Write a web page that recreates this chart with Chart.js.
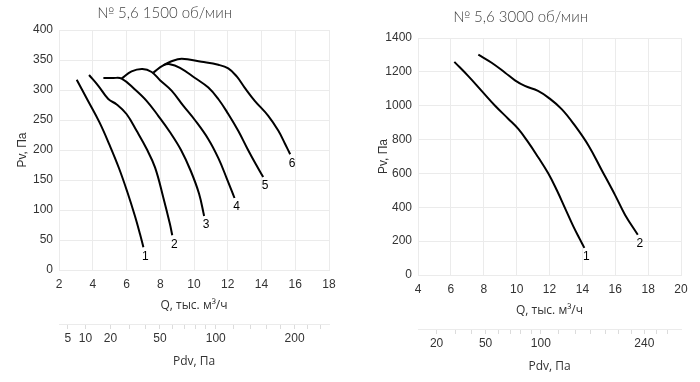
<!DOCTYPE html>
<html>
<head>
<meta charset="utf-8">
<script src="https://cdn.jsdelivr.net/npm/chart.js@4.4.1/dist/chart.umd.min.js"></script>
<style>
  html, body { margin: 0; padding: 0; background: #fff; overflow: hidden; }
  #wrap { position: relative; width: 700px; height: 382px; overflow: hidden; }
  #left { position: absolute; left: 0; top: 0; }
  #right { position: absolute; left: 360px; top: 5px; }
</style>
</head>
<body>
<div id="wrap">
  <canvas id="left" width="412" height="382"></canvas>
  <canvas id="right" width="396" height="382"></canvas>
</div>
<script>
// 1500 rpm: Q (thousand m3/h) and Pv (Pa) per curve
const leftQ1 = [3.05, 3.7, 4.4, 5.0, 5.55, 6.05, 6.5, 6.8, 7.0];
const leftPv1 = [317, 283, 246, 208, 170, 130, 90, 60, 38];
const leftQ2 = [3.78, 4.33, 4.92, 5.42, 6.0, 6.6, 7.19, 7.69, 8.18, 8.57, 8.71];
const leftPv2 = [325, 307, 285, 276, 260, 232, 202, 171, 121, 77, 58];
const leftQ3 = [4.63, 5.2, 5.71, 6.5, 7.19, 7.88, 8.57, 9.23, 9.81, 10.3, 10.6];
const leftPv3 = [320, 320, 319, 301, 282, 257, 230, 200, 165, 127, 90];
const leftQ4 = [5.71, 6.3, 6.94, 7.49, 8.0, 8.67, 9.36, 10.05, 10.85, 11.45, 11.95, 12.4];
const leftPv4 = [319, 331, 335, 330, 316, 299, 274, 250, 218, 186, 152, 120];
const leftQ5 = [7.59, 8.18, 8.57, 9.17, 10.06, 10.85, 11.44, 12.03, 12.62, 13.15, 13.65, 14.1];
const leftPv5 = [329, 341, 343, 337, 320, 304, 285, 260, 232, 203, 177, 155];
const leftQ6 = [8.18, 8.6, 9.27, 10.45, 11.44, 12.03, 12.52, 13.0, 13.6, 14.4, 15.0, 15.4, 15.7];
const leftPv6 = [341, 347, 352, 347, 342, 336, 323, 304, 282, 257, 232, 210, 193];

// 3000 rpm
const rightQ1 = [6.21, 7.06, 7.87, 8.69, 9.5, 10.1, 10.7, 11.3, 11.93, 12.44, 12.95, 13.45, 13.86, 14.12];
const rightPv1 = [1259, 1175, 1088, 1000, 922, 863, 785, 697, 599, 502, 394, 287, 209, 160];
const rightQ2 = [7.67, 8.48, 9.3, 9.9, 10.5, 11.3, 11.93, 12.74, 13.55, 14.37, 15.18, 15.99, 16.6, 17.37];
const rightPv2 = [1302, 1254, 1195, 1150, 1117, 1088, 1048, 980, 882, 765, 619, 472, 355, 238];

// dynamic pressure scale, Pdv = k * Q^2
const leftK = 0.785;
const leftPdvTicks = [5, 10, 20, 30, 40, 50, 60, 70, 80, 90, 100, 120, 140, 160, 180, 200, 220, 240];
const leftPdvLabels = [5, 10, 20, 50, 100, 200];
const rightK = 0.76;
const rightPdvTicks = [20, 30, 40, 50, 60, 70, 80, 90, 100, 120, 140, 160, 180, 200, 220, 240, 260, 280];
const rightPdvLabels = [20, 50, 100, 240];

const gridColor = '#ebebeb';
const textColor = '#333';
const tickFont = { family: '"Liberation Sans", Arial, sans-serif', size: 12 };
const titleFont = { family: '"Open Sans", "Liberation Sans", sans-serif', size: 12 };

const endLabels = {
  id: 'endLabels',
  afterDatasetsDraw(chart) {
    const ctx = chart.ctx;
    ctx.save();
    ctx.font = '12px "Liberation Sans", Arial, sans-serif';
    ctx.fillStyle = '#000';
    ctx.textAlign = 'center';
    ctx.textBaseline = 'middle';
    chart.data.datasets.forEach((ds, i) => {
      const pts = chart.getDatasetMeta(i).data;
      const p = pts[pts.length - 1];
      ctx.fillText(ds.label, p.x + 2, p.y + 9);
    });
    ctx.restore();
  }
};

function toDatasets(curves) {
  return curves.map((c, i) => ({
    label: String(i + 1),
    data: c[0].map((q, j) => ({ x: q, y: c[1][j] })),
    borderColor: '#000',
    borderWidth: 2,
    pointRadius: 0,
    tension: 0.4,
    fill: false
  }));
}

function makeChart(id, o) {
  return new Chart(document.getElementById(id), {
    type: 'line',
    data: { datasets: toDatasets(o.curves) },
    plugins: [endLabels],
    options: {
      responsive: false,
      animation: false,
      devicePixelRatio: 1,
      layout: { padding: { left: 0, right: o.padRight, top: 0, bottom: 0 } },
      plugins: {
        legend: { display: false },
        tooltip: { enabled: false },
        title: {
          display: true,
          text: o.title,
          color: '#444',
          font: { family: 'Lato, "Open Sans", sans-serif', size: 15, weight: '300' },
          padding: o.titlePad
        }
      },
      scales: {
        x: {
          type: 'linear', position: 'bottom',
          min: o.xMin, max: o.xMax,
          afterFit: s => { s.height = 54; },
          ticks: { stepSize: 2, autoSkip: false, maxRotation: 0, padding: 7, color: textColor, font: tickFont },
          grid: { color: gridColor, drawTicks: false },
          border: { color: gridColor },
          title: { display: true, text: 'Q, тыс. м³/ч', color: textColor, font: titleFont, padding: { top: 0, bottom: 11 } }
        },
        pdv: {
          type: 'linear', position: 'bottom',
          min: o.xMin, max: o.xMax,
          afterFit: s => { s.height = 58; },
          afterBuildTicks: s => { s.ticks = o.pdvTicks.map(p => ({ value: Math.sqrt(p / o.k) })); },
          ticks: {
            autoSkip: false, maxRotation: 0, padding: 2, color: textColor, font: tickFont,
            callback: (v, i) => o.pdvLabels.includes(o.pdvTicks[i]) ? String(o.pdvTicks[i]) : ''
          },
          grid: { drawOnChartArea: false, drawTicks: true, tickLength: 5, color: '#dcdcdc' },
          border: { display: true, color: gridColor },
          title: { display: true, text: 'Pdv, Па', color: textColor, font: titleFont, padding: { top: 0, bottom: 13 } }
        },
        y: {
          min: 0, max: o.yMax,
          afterFit: s => { s.width = o.yWidth; },
          ticks: { stepSize: o.yStep, padding: 6, color: textColor, font: tickFont, callback: v => String(v) },
          grid: { color: gridColor, drawTicks: false },
          border: { color: gridColor },
          title: { display: true, text: 'Pv, Па', color: textColor, font: tickFont, padding: { top: o.yTitlePad, bottom: 0 } }
        }
      }
    }
  });
}

makeChart('left', {
  title: '№ 5,6 1500 об/мин',
  titlePad: { top: 4, bottom: 8 },
  curves: [[leftQ1, leftPv1], [leftQ2, leftPv2], [leftQ3, leftPv3], [leftQ4, leftPv4], [leftQ5, leftPv5], [leftQ6, leftPv6]],
  xMin: 2, xMax: 18, yMax: 400, yStep: 50,
  k: leftK, pdvTicks: leftPdvTicks, pdvLabels: leftPdvLabels,
  padRight: 83, yWidth: 59, yTitlePad: 15
});

makeChart('right', {
  title: '№ 5,6 3000 об/мин',
  titlePad: { top: 3, bottom: 12 },
  curves: [[rightQ1, rightPv1], [rightQ2, rightPv2]],
  xMin: 4, xMax: 20, yMax: 1400, yStep: 200,
  k: rightK, pdvTicks: rightPdvTicks, pdvLabels: rightPdvLabels,
  padRight: 75, yWidth: 58, yTitlePad: 16
});
</script>
</body>
</html>
